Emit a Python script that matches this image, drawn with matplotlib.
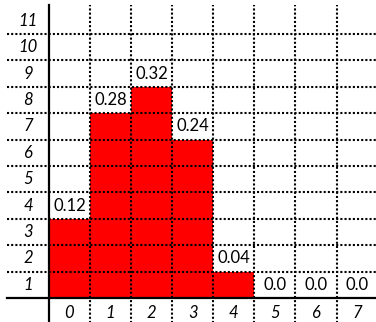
import matplotlib
matplotlib.use("Agg")
import matplotlib.pyplot as plt
import numpy as np

# data
categories = [0, 1, 2, 3, 4, 5, 6, 7]
probs = [0.12, 0.28, 0.32, 0.24, 0.04, 0.0, 0.0, 0.0]
row_labels = [1, 2, 3, 4, 5, 6, 7, 8, 9, 10, 11]
unit = 0.04

plt.rcParams['font.family'] = ['Lato', 'DejaVu Sans']

fig = plt.figure(figsize=(3.76, 3.22), dpi=100)
ax = fig.add_axes([0, 0, 1, 1])
ax.set_xlim(-1.19, 7.96)
ax.set_ylim(-0.91, 11.29)
ax.axis('off')

heights = [p / unit for p in probs]
ax.bar(categories, heights, width=1.0, align='edge', color='#ff0000', zorder=1)

# dotted grid
for r in range(1, 11):
    ax.plot([-1.02, 8.2], [r, r], color='black', lw=1.5, dashes=(1, 1),
            dash_capstyle='butt', zorder=2)
for c in range(1, 8):
    ax.plot([c, c], [-0.95, 11.1], color='black', lw=1.5, dashes=(1, 1),
            dash_capstyle='butt', zorder=2)

# solid axes
ax.plot([0, 0], [-0.95, 11.1], color='black', lw=1.6, zorder=3)
ax.plot([-1.02, 8.2], [0, 0], color='black', lw=1.6, zorder=3)

# row labels
for r in row_labels:
    ax.text(-0.51, r - 0.5, str(r), ha='center', va='center',
            fontsize=12, style='italic', zorder=4)

# column labels
for c in categories:
    ax.text(c + 0.5, -0.57, str(c), ha='center', va='center',
            fontsize=12, style='italic', zorder=4)

# value labels
for c, h, p in zip(categories, heights, probs):
    ax.text(c + 0.5, h + 0.5, str(round(p, 2)), ha='center', va='center',
            fontsize=12, zorder=4)

fig.savefig("out.png", dpi=100)
